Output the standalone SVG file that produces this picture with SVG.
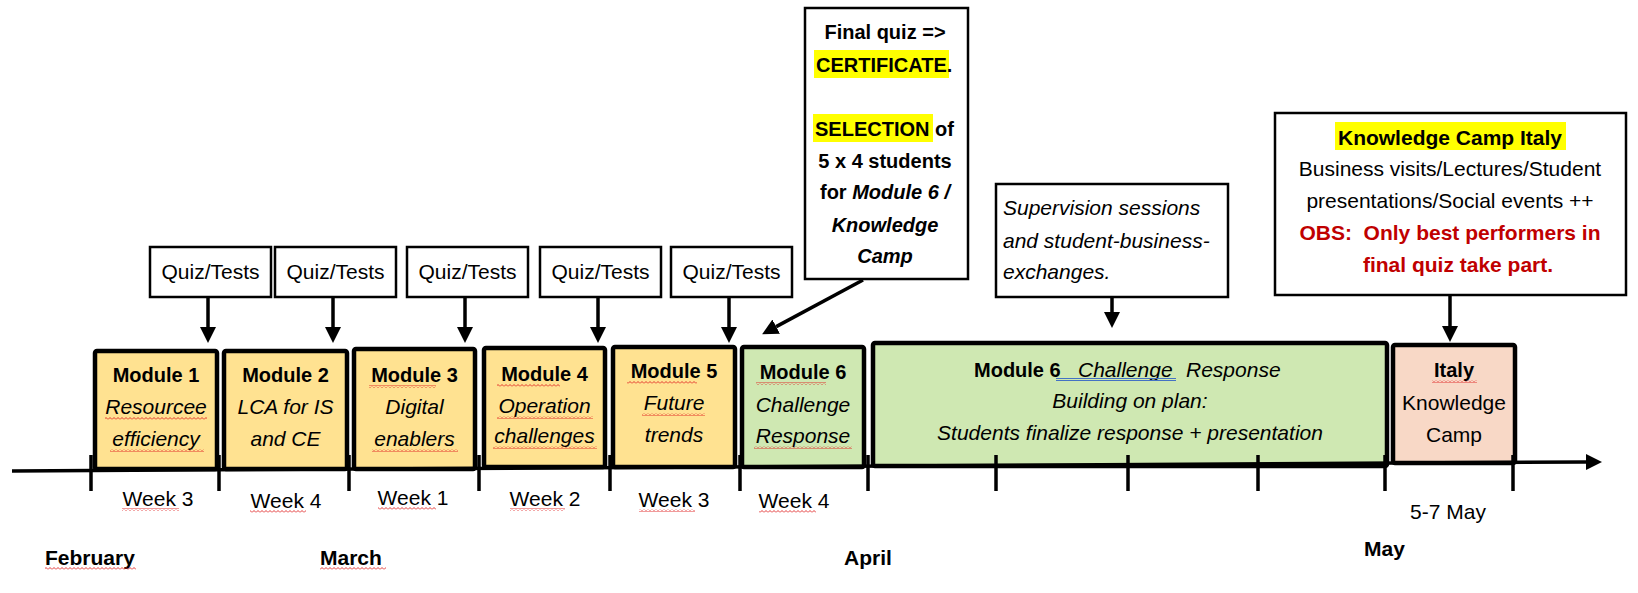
<svg xmlns="http://www.w3.org/2000/svg" width="1638" height="593" viewBox="0 0 1638 593">
<style>
text { font-family: 'Liberation Sans', Arial, sans-serif; fill:#000; font-size:21px; }
.c { text-anchor: middle; }
.b { font-weight: bold; font-size:20px; }
.bb { font-weight: bold; font-size:21px; }
.i { font-style: italic; }
.bi { font-weight: bold; font-style: italic; font-size:20px; }
.red { fill:#C00000; font-weight:bold; font-size:21px; white-space:pre; }
.mod { stroke:#000; stroke-width:4.5; }
.yel { fill:#FFE291; }
.grn { fill:#CFE8B2; }
.pch { fill:#F8D8C6; }
.note { fill:#fff; stroke:#000; stroke-width:2.5; }
.arr { stroke:#000; stroke-width:3.5; fill:none; marker-end:url(#ah); }
.tick { stroke:#000; stroke-width:3.5; }
.sq { fill:url(#sqp); }
.hl { fill:#FFFF00; }
</style>
<defs>
<marker id="ah" markerUnits="userSpaceOnUse" markerWidth="16" markerHeight="16" refX="0" refY="8" orient="auto">
<path d="M0,0 L16,8 L0,16 z" fill="#000"/>
</marker>
<pattern id="sqp" patternUnits="userSpaceOnUse" width="4" height="3">
<polyline points="0,2.5 2,0.5 4,2.5" fill="none" stroke="#E02020" stroke-width="0.9"/>
</pattern>
</defs>
<rect width="1638" height="593" fill="#fff"/>

<g id="module1">
<rect class="mod yel" x="95" y="351" width="122" height="118" rx="2"/>
<text class="c b" x="156" y="382">Module 1</text>
<text class="c i" x="156" y="414">Resourcee</text>
<text class="c i" x="156" y="446">efficiency</text>
<rect class="sq" x="105" y="417" width="102" height="3"/>
<rect class="sq" x="110" y="449" width="94" height="3"/>
</g>
<g id="module2">
<rect class="mod yel" x="224" y="351" width="123" height="118" rx="2"/>
<text class="c b" x="285.5" y="382">Module 2</text>
<text class="c i" x="285.5" y="414">LCA for IS</text>
<text class="c i" x="285.5" y="446">and CE</text>
</g>
<g id="module3">
<rect class="mod yel" x="354" y="349" width="121" height="120" rx="2"/>
<text class="c b" x="414.5" y="382">Module 3</text>
<text class="c i" x="414.5" y="414">Digital</text>
<text class="c i" x="414.5" y="446">enablers</text>
<rect class="sq" x="369" y="385" width="67" height="3"/>
<rect class="sq" x="372" y="449" width="86" height="3"/>
</g>
<g id="module4">
<rect class="mod yel" x="484" y="348" width="121" height="119" rx="2"/>
<text class="c b" x="544.5" y="381">Module 4</text>
<text class="c i" x="544.5" y="413">Operation</text>
<text class="c i" x="544.5" y="443">challenges</text>
<rect class="sq" x="497" y="384" width="63" height="3"/>
<rect class="sq" x="497" y="416" width="96" height="3"/>
<rect class="sq" x="493" y="446" width="104" height="3"/>
</g>
<g id="module5">
<rect class="mod yel" x="613" y="347" width="122" height="120" rx="2"/>
<text class="c b" x="674" y="378">Module 5</text>
<text class="c i" x="674" y="410">Future</text>
<text class="c i" x="674" y="442">trends</text>
<rect class="sq" x="627" y="381" width="70" height="3"/>
<rect class="sq" x="642" y="413" width="63" height="3"/>
</g>
<g id="module6">
<rect class="mod grn" x="742" y="347" width="122" height="120" rx="2"/>
<text class="c b" x="803" y="379">Module 6</text>
<text class="c i" x="803" y="412">Challenge</text>
<text class="c i" x="803" y="443">Response</text>
<rect class="sq" x="756" y="382" width="70" height="3"/>
<rect class="sq" x="754" y="446" width="98" height="3"/>
</g>
<g id="module6-response">
<rect class="mod grn" x="873" y="343" width="514" height="123" rx="2"/>
<text class="b" x="974" y="377">Module 6</text>
<text class="i" x="1078" y="377">Challenge</text>
<text class="i" x="1186" y="377">Response</text>
<line x1="1056" y1="378.5" x2="1176" y2="378.5" stroke="#4472C4" stroke-width="1"/>
<line x1="1056" y1="380.5" x2="1176" y2="380.5" stroke="#4472C4" stroke-width="1"/>
<text class="c i" x="1130" y="408">Building on plan:</text>
<text class="c i" x="1130" y="440">Students finalize response + presentation</text>
</g>
<g id="italy">
<rect class="mod pch" x="1393" y="345" width="122" height="118" rx="2"/>
<text class="c b" x="1454" y="377">Italy</text>
<text class="c" x="1454" y="410">Knowledge</text>
<text class="c" x="1454" y="442">Camp</text>
<rect class="sq" x="1432" y="380" width="45" height="3"/>
</g>

<g id="quiz1"><rect class="note" x="150" y="247" width="121" height="50"/><text class="c" x="210.5" y="279">Quiz/Tests</text></g>
<g id="quiz2"><rect class="note" x="275" y="247" width="121" height="50"/><text class="c" x="335.5" y="279">Quiz/Tests</text></g>
<g id="quiz3"><rect class="note" x="407" y="247" width="121" height="50"/><text class="c" x="467.5" y="279">Quiz/Tests</text></g>
<g id="quiz4"><rect class="note" x="540" y="247" width="121" height="50"/><text class="c" x="600.5" y="279">Quiz/Tests</text></g>
<g id="quiz5"><rect class="note" x="671" y="247" width="121" height="50"/><text class="c" x="731.5" y="279">Quiz/Tests</text></g>

<g id="final-quiz">
<rect class="note" x="805" y="8" width="163" height="271"/>
<rect class="hl" x="814" y="50" width="135" height="28"/>
<rect class="hl" x="813" y="114" width="120" height="28"/>
<text class="c b" x="885" y="39">Final quiz =&gt;</text>
<text class="b" x="816" y="72">CERTIFICATE.</text>
<text class="b" x="815" y="136">SELECTION of</text>
<text class="c b" x="885" y="168">5 x 4 students</text>
<text class="c b" x="885" y="199">for <tspan font-style="italic">Module 6 /</tspan></text>
<text class="c bi" x="885" y="232">Knowledge</text>
<text class="c bi" x="885" y="263">Camp</text>
</g>

<g id="supervision">
<rect class="note" x="996" y="184" width="232" height="113"/>
<text class="i" x="1003" y="215">Supervision sessions</text>
<text class="i" x="1003" y="248">and student-business-</text>
<text class="i" x="1003" y="279">exchanges.</text>
</g>

<g id="knowledge-camp">
<rect class="note" x="1275" y="113" width="351" height="182" stroke-width="3"/>
<rect class="hl" x="1335" y="122" width="231" height="28"/>
<text class="c bb" x="1450" y="145">Knowledge Camp Italy</text>
<text class="c" x="1450" y="176" font-size="21.5">Business visits/Lectures/Student</text>
<text class="c" x="1450" y="208" font-size="21.5">presentations/Social events ++</text>
<text class="c red" x="1450" y="240">OBS:  Only best performers in</text>
<text class="c red" x="1458" y="272">final quiz take part.</text>
</g>

<g id="connectors">
<line class="arr" x1="208" y1="297" x2="208" y2="327"/>
<line class="arr" x1="333" y1="297" x2="333" y2="327"/>
<line class="arr" x1="465" y1="297" x2="465" y2="327"/>
<line class="arr" x1="598" y1="297" x2="598" y2="327"/>
<line class="arr" x1="729" y1="297" x2="729" y2="327"/>
<line class="arr" x1="863" y1="280" x2="776.2" y2="326.6"/>
<line class="arr" x1="1112" y1="297" x2="1112" y2="312"/>
<line class="arr" x1="1450" y1="295" x2="1450" y2="326"/>
</g>

<g id="timeline">
<line class="arr" x1="12" y1="471" x2="1586" y2="462"/>
<line class="tick" x1="91" y1="455" x2="91" y2="491"/>
<line class="tick" x1="219" y1="455" x2="219" y2="491"/>
<line class="tick" x1="349" y1="455" x2="349" y2="491"/>
<line class="tick" x1="479" y1="455" x2="479" y2="491"/>
<line class="tick" x1="610" y1="455" x2="610" y2="491"/>
<line class="tick" x1="740" y1="455" x2="740" y2="491"/>
<line class="tick" x1="868" y1="455" x2="868" y2="491"/>
<line class="tick" x1="996" y1="455" x2="996" y2="491"/>
<line class="tick" x1="1128" y1="455" x2="1128" y2="491"/>
<line class="tick" x1="1258" y1="455" x2="1258" y2="491"/>
<line class="tick" x1="1385" y1="455" x2="1385" y2="491"/>
<line class="tick" x1="1513" y1="455" x2="1513" y2="491"/>
</g>

<g id="labels">
<text class="c" x="158" y="506">Week 3</text>
<text class="c" x="286" y="508">Week 4</text>
<text class="c" x="413" y="505">Week 1</text>
<text class="c" x="545" y="506">Week 2</text>
<text class="c" x="674" y="507">Week 3</text>
<text class="c" x="794" y="508">Week 4</text>
<rect class="sq" x="122" y="508" width="57" height="3"/>
<rect class="sq" x="250" y="510" width="56" height="3"/>
<rect class="sq" x="378" y="507" width="58" height="3"/>
<rect class="sq" x="510" y="508" width="55" height="3"/>
<rect class="sq" x="639" y="509" width="56" height="3"/>
<rect class="sq" x="759" y="510" width="57" height="3"/>
<text class="c" x="1448" y="519">5-7 May</text>
<text class="bb" x="45" y="565">February</text>
<text class="bb" x="320" y="565">March</text>
<text class="bb" x="844" y="565">April</text>
<text class="bb" x="1364" y="556">May</text>
<rect class="sq" x="45" y="567" width="91" height="3"/>
<rect class="sq" x="320" y="567" width="66" height="3"/>
</g>
</svg>
